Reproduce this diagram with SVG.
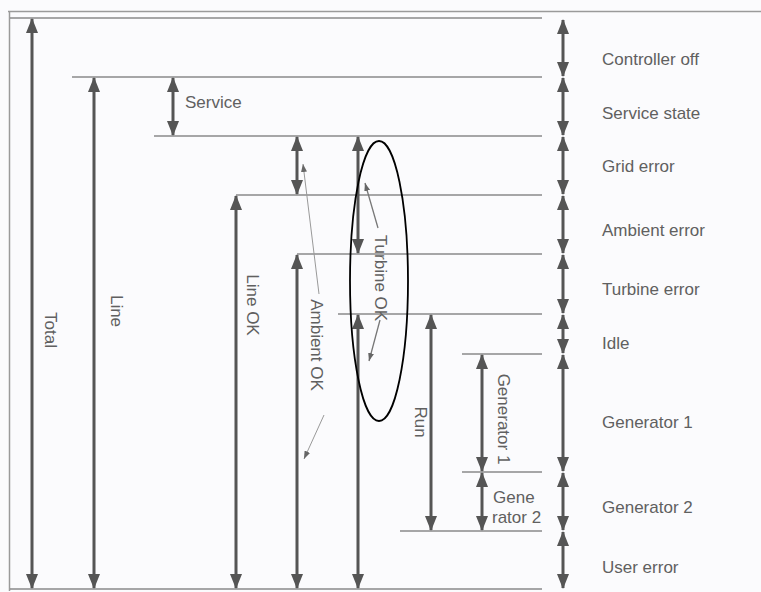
<svg xmlns="http://www.w3.org/2000/svg" width="761" height="592" viewBox="0 0 761 592">
<defs>
<marker id="ah" viewBox="0 0 15 12" refX="14" refY="6" markerWidth="15" markerHeight="12" markerUnits="userSpaceOnUse" orient="auto-start-reverse"><path d="M0,0 L15,6 L0,12 z" fill="#555"/></marker>
<marker id="sh" viewBox="0 0 8 6" refX="8" refY="3" markerWidth="8" markerHeight="6" markerUnits="userSpaceOnUse" orient="auto"><path d="M0,0 L8,3 L0,6 z" fill="#666"/></marker>
<style>
.lvl{stroke:#8a8a8a;stroke-width:1.5;fill:none}
.frm{stroke:#9a9a9a;stroke-width:1.5;fill:none}
.dim{stroke:#555;stroke-width:3;fill:none;marker-start:url(#ah);marker-end:url(#ah)}
.ldr{stroke:#999;stroke-width:1;fill:none;marker-end:url(#sh)}
.ldr2{stroke:#777;stroke-width:1.3;fill:none;marker-end:url(#sh)}
text{font-family:"Liberation Sans",Arial,sans-serif;font-size:17px;fill:#606060}
.v{text-anchor:middle;dominant-baseline:central}
</style>
</defs>
<rect width="761" height="592" fill="#fbfbfd"/>
<g id="frame">
<line class="frm" x1="8" y1="11.5" x2="761" y2="11.5"/>
<line class="frm" x1="9.5" y1="11" x2="9.5" y2="591"/>
</g>
<g id="levels">
<line class="lvl" x1="10" y1="18" x2="542" y2="18"/>
<line class="lvl" x1="72" y1="77" x2="542" y2="77"/>
<line class="lvl" x1="154" y1="136" x2="542" y2="136"/>
<line class="lvl" x1="236" y1="195" x2="542" y2="195"/>
<line class="lvl" x1="297" y1="254" x2="542" y2="254"/>
<line class="lvl" x1="338" y1="314" x2="542" y2="314"/>
<line class="lvl" x1="462" y1="354" x2="542" y2="354"/>
<line class="lvl" x1="462" y1="472" x2="542" y2="472"/>
<line class="lvl" x1="400" y1="531" x2="542" y2="531"/>
<line class="lvl" x1="10" y1="589" x2="542" y2="589"/>
</g>
<g id="connectors">
<line class="dim" x1="32" y1="19" x2="32" y2="588"/>
<line class="dim" x1="94" y1="78" x2="94" y2="588"/>
<line class="dim" x1="173" y1="78" x2="173" y2="135"/>
<line class="dim" x1="236" y1="196" x2="236" y2="588"/>
<line class="dim" x1="297" y1="137" x2="297" y2="194"/>
<line class="dim" x1="297" y1="255" x2="297" y2="588"/>
<line class="dim" x1="358" y1="137" x2="358" y2="253"/>
<line class="dim" x1="358" y1="315" x2="358" y2="588"/>
<line class="dim" x1="431" y1="315" x2="431" y2="530"/>
<line class="dim" x1="482" y1="355" x2="482" y2="471"/>
<line class="dim" x1="482" y1="473" x2="482" y2="530"/>
<line class="dim" x1="563" y1="20" x2="563" y2="76"/>
<line class="dim" x1="563" y1="78" x2="563" y2="135"/>
<line class="dim" x1="563" y1="137" x2="563" y2="194"/>
<line class="dim" x1="563" y1="196" x2="563" y2="253"/>
<line class="dim" x1="563" y1="255" x2="563" y2="313"/>
<line class="dim" x1="563" y1="315" x2="563" y2="353"/>
<line class="dim" x1="563" y1="355" x2="563" y2="471"/>
<line class="dim" x1="563" y1="473" x2="563" y2="530"/>
<line class="dim" x1="563" y1="532" x2="563" y2="588"/>
<line class="ldr" x1="319" y1="294" x2="303" y2="164"/>
<line class="ldr" x1="324" y1="415" x2="304" y2="459"/>
<line class="ldr2" x1="378" y1="228" x2="365" y2="183"/>
<line class="ldr2" x1="380" y1="320" x2="369" y2="361"/>
</g>
<g id="total"><text class="v" transform="translate(50,330) rotate(90)">Total</text></g>
<g id="line"><text class="v" transform="translate(116,311) rotate(90)">Line</text></g>
<g id="service"><text x="185" y="108">Service</text></g>
<g id="line-ok"><text class="v" transform="translate(252,305) rotate(90)">Line OK</text></g>
<g id="ambient-ok"><text class="v" transform="translate(316,345) rotate(90)">Ambient OK</text></g>
<g id="turbine-ok"><text class="v" transform="translate(380,278) rotate(90)">Turbine OK</text>
<ellipse cx="379" cy="281" rx="29" ry="140" fill="none" stroke="#000" stroke-width="1.8"/></g>
<g id="run"><text class="v" transform="translate(420,422) rotate(90)">Run</text></g>
<g id="generator1-v"><text class="v" transform="translate(503,419) rotate(90)">Generator 1</text></g>
<g id="generator2-v"><text x="493" y="503">Gene</text><text x="492" y="523">rator 2</text></g>
<g id="states">
<text x="602" y="65">Controller off</text>
<text x="602" y="119">Service state</text>
<text x="602" y="172">Grid error</text>
<text x="602" y="236">Ambient error</text>
<text x="602" y="295">Turbine error</text>
<text x="602" y="349">Idle</text>
<text x="602" y="428">Generator 1</text>
<text x="602" y="513">Generator 2</text>
<text x="602" y="573">User error</text>
</g>
</svg>
